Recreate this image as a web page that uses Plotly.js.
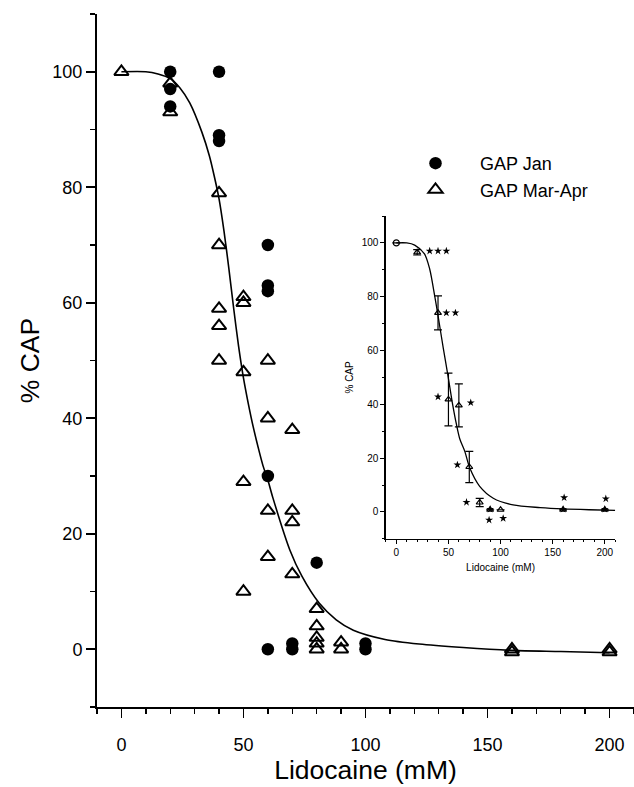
<!DOCTYPE html>
<html>
<head>
<meta charset="utf-8">
<script src="https://cdn.plot.ly/plotly-3.0.1.min.js"></script>
<style>html,body{margin:0;padding:0;background:#fff}#chart{width:634px;height:787px}</style>
</head>
<body>
<div id="chart"></div>
<script>
// ---- main panel data ----
var janX = [20, 20, 20, 40, 40, 40, 60, 60, 60, 60, 60, 70, 70, 80, 100, 100];
var janY = [100, 97, 94, 100, 89, 88, 70, 63, 62, 30, 0, 1, 0, 15, 1, 0];
var marX = [0, 20, 20, 40, 40, 40, 40, 40, 50, 50, 50, 50, 50, 60, 60, 60, 60, 70, 70, 70, 70, 80, 80, 80, 80, 80, 90, 90, 160, 160, 200, 200];
var marY = [100, 98, 93, 79, 70, 59, 56, 50, 61, 60, 48, 29, 10, 50, 40, 24, 16, 38, 24, 22, 13, 7, 4, 2, 1, 0, 1.2, 0, 0, -0.5, 0, -0.5];
var fitX = [0, 10, 15, 20, 24, 28, 33, 36, 38, 40, 42, 44, 46, 48, 50, 52, 54, 56, 58, 60, 62, 69, 74, 81, 88, 95, 108, 122, 140, 160, 180, 200];
var fitY = [100, 100, 99.6, 98.8, 97.2, 94.6, 89.5, 85.5, 82, 78, 72.5, 66, 59, 52.5, 47, 42.5, 38.5, 35, 31.8, 29.3, 26.3, 17.2, 12.6, 8, 5.1, 3.3, 1.7, 0.9, 0.3, -0.2, -0.4, -0.6];

// ---- inset data ----
var meanX = [0, 20, 40, 50, 60, 70, 80, 90, 100, 160, 200];
var meanY = [100, 96.5, 74, 41.8, 39.6, 16.7, 3.5, 0.8, 0.8, 0.8, 0.8];
var meanErr = [0, 1, 6.3, 9.8, 8, 5.8, 1.5, 0, 0, 0, 0];
var starX = [32, 40, 48, 48, 56.7, 40, 71.4, 58.6, 67.3, 89, 90, 102.5, 161, 201, 160, 200];
var starY = [97, 97, 97, 74, 74, 42.8, 40.6, 17.5, 3.6, -3, 1, -2.4, 5.3, 4.9, 1, 1];
var insetFitX = [0, 10, 17.6, 27, 32, 36.8, 40, 45, 49.6, 54, 57.7, 61, 65.7, 70.5, 80, 93, 112, 138, 160, 185, 210];
var insetFitY = [100, 100, 99.2, 95.9, 90.3, 80.3, 73, 61, 50.5, 40, 32.5, 27, 22.5, 16.3, 9.5, 5.1, 2.6, 1.6, 1.1, 0.8, 0.6];

var xTicks = [0, 50, 100, 150, 200];
var yTicks = [0, 20, 40, 60, 80, 100];
var seriesNames = ['GAP Jan', 'GAP Mar-Apr'];
var xTitle = 'Lidocaine (mM)';
var yTitle = '% CAP';

var FONT = 'Liberation Sans, Arial, sans-serif';

var traces = [
  {x: fitX, y: fitY, mode: 'lines', line: {color: '#000', width: 1.6, shape: 'spline', smoothing: 0.8}, showlegend: false, hoverinfo: 'skip', xaxis: 'x', yaxis: 'y'},
  {x: janX, y: janY, mode: 'markers', name: seriesNames[0], marker: {symbol: 'circle', size: 12.5, color: '#000'}, xaxis: 'x', yaxis: 'y'},
  {x: marX, y: marY, mode: 'markers', name: seriesNames[1], marker: {symbol: 'triangle-up-open', size: 12.5, color: '#000', line: {width: 2, color: '#000'}}, xaxis: 'x', yaxis: 'y'},
  {x: insetFitX, y: insetFitY, mode: 'lines', line: {color: '#000', width: 1.3, shape: 'spline', smoothing: 0.8}, showlegend: false, hoverinfo: 'skip', xaxis: 'x2', yaxis: 'y2'},
  {x: meanX, y: meanY, mode: 'markers', showlegend: false,
   error_y: {type: 'data', array: meanErr, visible: true, color: '#000', thickness: 1.2, width: 4},
   marker: {symbol: meanX.map(function(v, i){ return i === 0 ? 'circle-open' : 'triangle-up-open'; }), size: 6, color: '#000', line: {width: 1.2, color: '#000'}},
   xaxis: 'x2', yaxis: 'y2'},
  {x: starX, y: starY, mode: 'markers', showlegend: false, marker: {symbol: 'star', size: 6, color: '#000'}, xaxis: 'x2', yaxis: 'y2'}
];

var axisBase = {showgrid: false, zeroline: false, showline: true, linecolor: '#000', ticks: 'outside', tickcolor: '#000'};

var layout = {
  width: 634, height: 787,
  margin: {l: 97, r: 0, t: 14, b: 80},
  paper_bgcolor: '#fff', plot_bgcolor: '#fff',
  font: {family: FONT, color: '#000'},
  showlegend: true,
  legend: {x: 0.5475, y: 0.811, xanchor: 'left', yanchor: 'top', bgcolor: 'rgba(0,0,0,0)', font: {size: 18, family: FONT}, itemwidth: 79},
  xaxis: Object.assign({}, axisBase, {
    domain: [0, 1], range: [-10, 210], tickvals: xTicks, ticktext: xTicks.map(String),
    ticklen: 9, tickwidth: 1.6, linewidth: 2, tickfont: {size: 18, family: FONT}, ticklabelstandoff: 11,
    minor: {dtick: 10, ticklen: 5, tickwidth: 1.4, tickcolor: '#000', ticks: 'outside'},
    title: {text: xTitle, font: {size: 26.5, family: FONT}, standoff: 6}
  }),
  yaxis: Object.assign({}, axisBase, {
    domain: [0, 1], range: [-10, 110], tickvals: yTicks, ticktext: yTicks.map(String),
    ticklen: 9, tickwidth: 1.6, linewidth: 2, tickfont: {size: 18, family: FONT},
    minor: {dtick: 10, ticklen: 5, tickwidth: 1.4, tickcolor: '#000', ticks: 'outside'},
    title: {text: yTitle, font: {size: 26.5, family: FONT}, standoff: 5}
  }),
  xaxis2: Object.assign({}, axisBase, {
    domain: [0.538, 0.965], anchor: 'y2', range: [-10, 210], tickvals: xTicks, ticktext: xTicks.map(String),
    ticklen: 4, tickwidth: 1, linewidth: 1.5, tickfont: {size: 10, family: FONT},
    minor: {dtick: 10, ticklen: 2, tickwidth: 1, tickcolor: '#000', ticks: 'outside'},
    title: {text: xTitle, font: {size: 10, family: FONT}, standoff: 6}
  }),
  yaxis2: Object.assign({}, axisBase, {
    domain: [0.2427, 0.7085], anchor: 'x2', range: [-10, 110], tickvals: yTicks, ticktext: yTicks.map(String),
    ticklen: 4, tickwidth: 1, linewidth: 1.5, tickfont: {size: 10, family: FONT},
    minor: {dtick: 10, ticklen: 2, tickwidth: 1, tickcolor: '#000', ticks: 'outside'},
    title: {text: yTitle, font: {size: 10, family: FONT}, standoff: 6}
  })
};

Plotly.newPlot('chart', traces, layout, {staticPlot: true, displayModeBar: false});
</script>
</body>
</html>
